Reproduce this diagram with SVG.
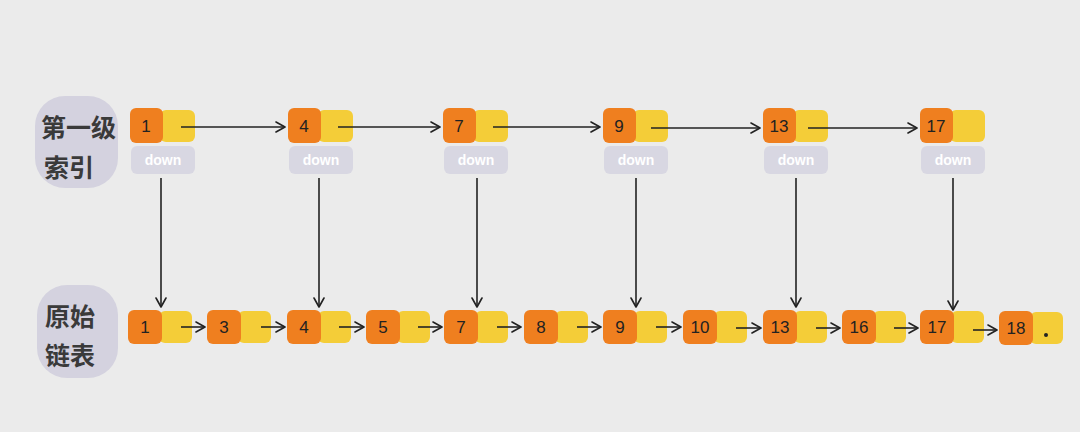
<svg xmlns="http://www.w3.org/2000/svg" width="1080" height="432" viewBox="0 0 1080 432">
<defs>
<marker id="arr" markerWidth="12" markerHeight="12" refX="10" refY="6" orient="auto" markerUnits="userSpaceOnUse">
<polyline points="1,1 10,6 1,11" fill="none" stroke="#222" stroke-width="1.6" stroke-linecap="round" stroke-linejoin="round"/>
</marker>
</defs>
<style>
.or{fill:#ef7f1f;}
.ye{fill:#f4cd38;}
.dn{fill:#d8d7e2;}
.dt{fill:#ffffff;font-family:"Liberation Sans",sans-serif;font-size:14px;font-weight:bold;text-anchor:middle;}
.num{fill:#222;font-family:"Liberation Sans",sans-serif;font-size:17px;text-anchor:middle;}
.lab{fill:#d4d2df;}
.cj{fill:#3a3a3a;font-family:"Noto Sans CJK SC",sans-serif;font-size:25px;font-weight:bold;}
.ln{stroke:#222;stroke-width:1.6;fill:none;marker-end:url(#arr);}
</style>
<rect width="1080" height="432" fill="#ebebeb"/>
<g id="label-index">
<rect class="lab" x="35" y="96" width="83" height="92" rx="30"/>
<text class="cj" x="41" y="137">第一级</text>
<text class="cj" x="44" y="177">索引</text>
</g>
<g id="label-list">
<rect class="lab" x="37" y="285" width="81" height="93" rx="30"/>
<text class="cj" x="45" y="326">原始</text>
<text class="cj" x="45" y="365">链表</text>
</g>
<g id="top-1"><rect class="ye" x="160" y="110" width="35" height="32" rx="6"/><rect class="or" x="130" y="108" width="33" height="35" rx="6"/><text class="num" x="146" y="132">1</text><rect class="dn" x="131" y="146" width="64" height="28" rx="6"/><text class="dt" x="163" y="165">down</text></g>
<g id="top-4"><rect class="ye" x="318" y="110" width="35" height="32" rx="6"/><rect class="or" x="288" y="108" width="33" height="35" rx="6"/><text class="num" x="304" y="132">4</text><rect class="dn" x="289" y="146" width="64" height="28" rx="6"/><text class="dt" x="321" y="165">down</text></g>
<g id="top-7"><rect class="ye" x="473" y="110" width="35" height="32" rx="6"/><rect class="or" x="443" y="108" width="33" height="35" rx="6"/><text class="num" x="459" y="132">7</text><rect class="dn" x="444" y="146" width="64" height="28" rx="6"/><text class="dt" x="476" y="165">down</text></g>
<g id="top-9"><rect class="ye" x="633" y="110" width="35" height="32" rx="6"/><rect class="or" x="603" y="108" width="33" height="35" rx="6"/><text class="num" x="619" y="132">9</text><rect class="dn" x="604" y="146" width="64" height="28" rx="6"/><text class="dt" x="636" y="165">down</text></g>
<g id="top-13"><rect class="ye" x="793" y="110" width="35" height="32" rx="6"/><rect class="or" x="763" y="108" width="33" height="35" rx="6"/><text class="num" x="779" y="132">13</text><rect class="dn" x="764" y="146" width="64" height="28" rx="6"/><text class="dt" x="796" y="165">down</text></g>
<g id="top-17"><rect class="ye" x="950" y="110" width="35" height="32" rx="6"/><rect class="or" x="920" y="108" width="33" height="35" rx="6"/><text class="num" x="936" y="132">17</text><rect class="dn" x="921" y="146" width="64" height="28" rx="6"/><text class="dt" x="953" y="165">down</text></g>
<g id="bot-1"><rect class="ye" x="159" y="311" width="33" height="32" rx="6"/><rect class="or" x="128" y="310" width="34" height="34" rx="6"/><text class="num" x="145" y="333">1</text></g>
<g id="bot-3"><rect class="ye" x="238" y="311" width="33" height="32" rx="6"/><rect class="or" x="207" y="310" width="34" height="34" rx="6"/><text class="num" x="224" y="333">3</text></g>
<g id="bot-4"><rect class="ye" x="318" y="311" width="33" height="32" rx="6"/><rect class="or" x="287" y="310" width="34" height="34" rx="6"/><text class="num" x="304" y="333">4</text></g>
<g id="bot-5"><rect class="ye" x="397" y="311" width="33" height="32" rx="6"/><rect class="or" x="366" y="310" width="34" height="34" rx="6"/><text class="num" x="383" y="333">5</text></g>
<g id="bot-7"><rect class="ye" x="475" y="311" width="33" height="32" rx="6"/><rect class="or" x="444" y="310" width="34" height="34" rx="6"/><text class="num" x="461" y="333">7</text></g>
<g id="bot-8"><rect class="ye" x="555" y="311" width="33" height="32" rx="6"/><rect class="or" x="524" y="310" width="34" height="34" rx="6"/><text class="num" x="541" y="333">8</text></g>
<g id="bot-9"><rect class="ye" x="634" y="311" width="33" height="32" rx="6"/><rect class="or" x="603" y="310" width="34" height="34" rx="6"/><text class="num" x="620" y="333">9</text></g>
<g id="bot-10"><rect class="ye" x="714" y="311" width="33" height="32" rx="6"/><rect class="or" x="683" y="310" width="34" height="34" rx="6"/><text class="num" x="700" y="333">10</text></g>
<g id="bot-13"><rect class="ye" x="794" y="311" width="33" height="32" rx="6"/><rect class="or" x="763" y="310" width="34" height="34" rx="6"/><text class="num" x="780" y="333">13</text></g>
<g id="bot-16"><rect class="ye" x="873" y="311" width="33" height="32" rx="6"/><rect class="or" x="842" y="310" width="34" height="34" rx="6"/><text class="num" x="859" y="333">16</text></g>
<g id="bot-17"><rect class="ye" x="951" y="311" width="33" height="32" rx="6"/><rect class="or" x="920" y="310" width="34" height="34" rx="6"/><text class="num" x="937" y="333">17</text></g>
<g id="bot-18"><rect class="ye" x="1030" y="312" width="33" height="32" rx="6"/><rect class="or" x="999" y="311" width="34" height="34" rx="6"/><text class="num" x="1016" y="334">18</text><circle cx="1046" cy="335" r="2" fill="#222"/></g>
<g id="connectors">
<line class="ln" x1="181" y1="127" x2="285" y2="127"/>
<line class="ln" x1="338" y1="127" x2="440" y2="127"/>
<line class="ln" x1="493" y1="127" x2="600" y2="127"/>
<line class="ln" x1="651" y1="128" x2="760" y2="128"/>
<line class="ln" x1="808" y1="128" x2="917" y2="128"/>
<line class="ln" x1="161" y1="178" x2="161" y2="307"/>
<line class="ln" x1="319" y1="178" x2="319" y2="307"/>
<line class="ln" x1="477" y1="178" x2="477" y2="307"/>
<line class="ln" x1="636" y1="178" x2="636" y2="307"/>
<line class="ln" x1="796" y1="178" x2="796" y2="307"/>
<line class="ln" x1="953" y1="178" x2="953" y2="310"/>
<line class="ln" x1="181" y1="327" x2="205" y2="327"/>
<line class="ln" x1="261" y1="327" x2="285" y2="327"/>
<line class="ln" x1="339" y1="327" x2="364" y2="327"/>
<line class="ln" x1="418" y1="327" x2="442" y2="327"/>
<line class="ln" x1="497" y1="327" x2="521" y2="327"/>
<line class="ln" x1="577" y1="327" x2="601" y2="327"/>
<line class="ln" x1="656" y1="327" x2="681" y2="327"/>
<line class="ln" x1="736" y1="328" x2="761" y2="328"/>
<line class="ln" x1="816" y1="328" x2="840" y2="328"/>
<line class="ln" x1="894" y1="328" x2="918" y2="328"/>
<line class="ln" x1="973" y1="330" x2="997" y2="330"/>
</g>
</svg>
